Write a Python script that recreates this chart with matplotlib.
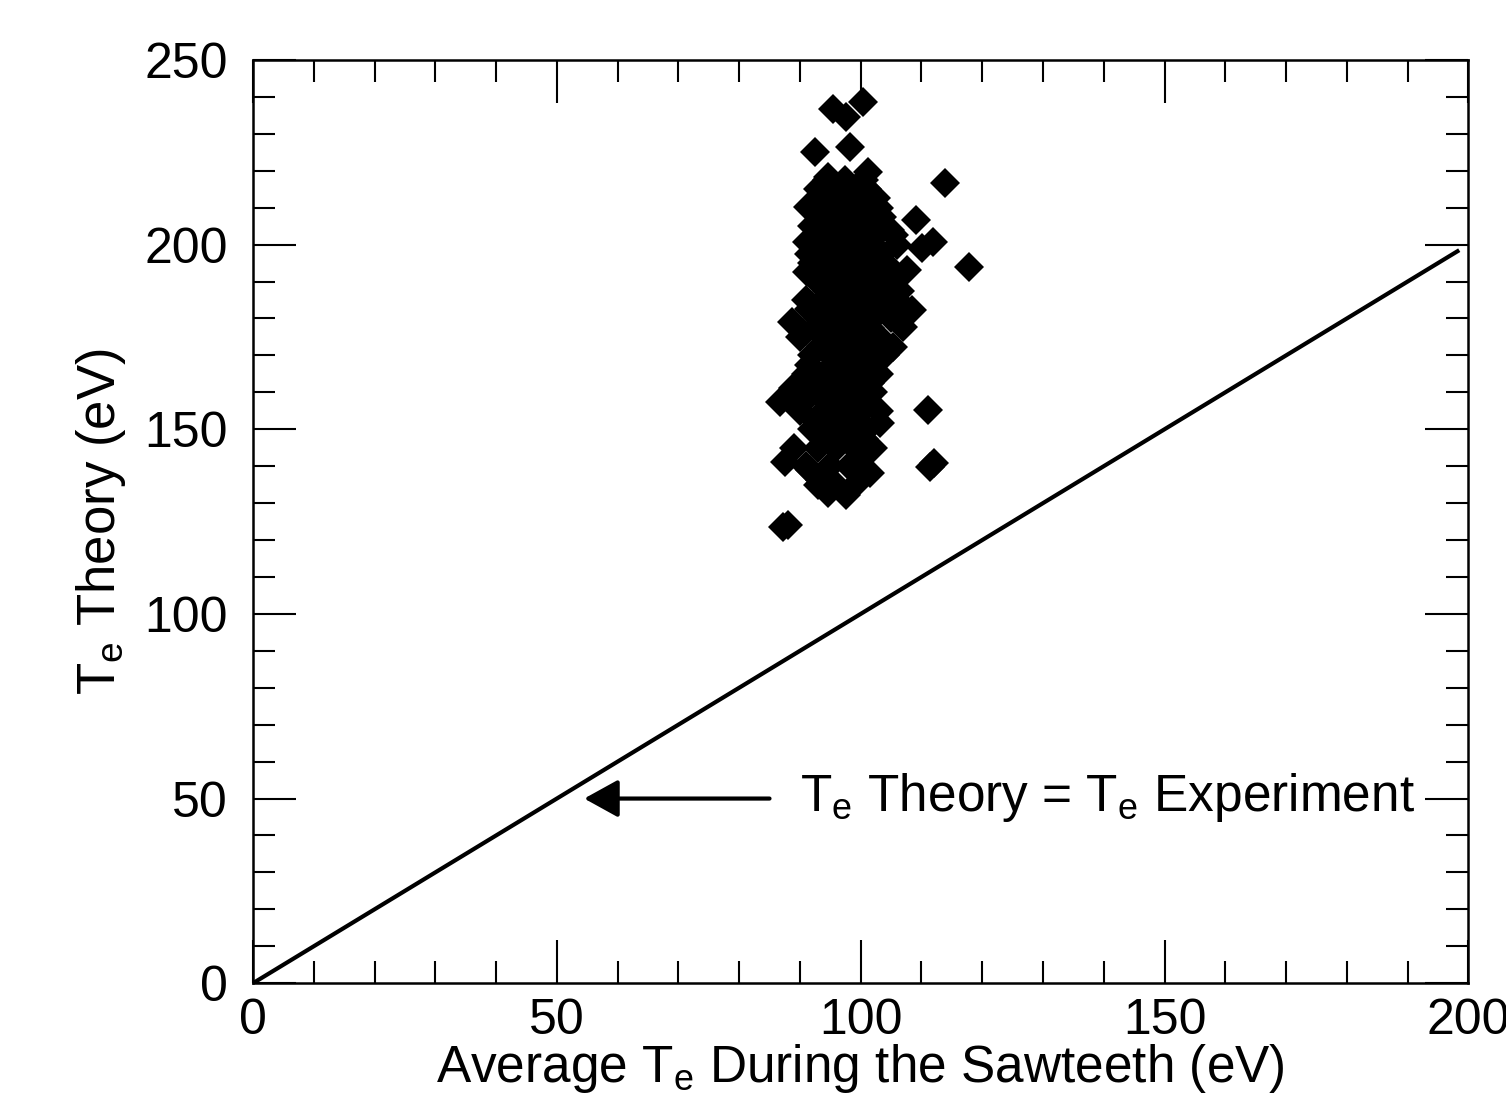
import numpy as np
import matplotlib as mpl
import matplotlib.pyplot as plt
from matplotlib.ticker import MultipleLocator

mpl.rcParams['font.family'] = ['Liberation Sans', 'DejaVu Sans']
mpl.rcParams['mathtext.fontset'] = 'custom'
mpl.rcParams['mathtext.rm'] = 'Liberation Sans'

# scatter points (Te average, Te theory)
te_avg = [100.4, 95.5, 97.6, 92.5, 98.3, 101.2, 94.7, 113.9, 109.1, 111.9,
          110.1, 117.9, 91.4, 91.2, 91.2, 88.7, 91.7, 108.5, 107.0, 105.3,
          104.9, 107.7, 111.1, 111.4, 112.0, 88.1, 87.2, 86.7, 87.6, 94.7,
          97.6, 101.6, 103.2, 88.9, 90.5, 101.6, 91.7, 93.3,
          93, 96, 99, 101,
          94, 97, 100, 103,
          92, 95, 98, 101, 104,
          93, 96, 99, 102, 106,
          92, 95, 98, 101, 104,
          93, 96, 99, 102, 105,
          91, 94, 97, 100, 103, 106,
          93, 96, 99, 102, 105,
          90, 94, 97, 100, 103,
          92, 95, 98, 101, 104,
          91, 94, 97, 100, 103,
          93, 96, 99, 102,
          90, 94, 97, 100, 103,
          92, 95, 98, 101,
          89, 93, 96, 99, 102,
          91, 95, 98, 100,
          93, 96, 99,
          # in-between rows
          94.5, 97.5, 100.5,
          93.5, 96.5, 99.5, 102.5,
          94.5, 97.5, 100.5, 103.5,
          93.5, 96.5, 99.5, 102.5, 105.5,
          91.5, 94.5, 97.5, 100.5, 103.5,
          92.5, 95.5, 98.5, 101.5, 104.5,
          94.5, 97.5, 100.5, 103.5, 106.5,
          91.5, 95.5, 98.5, 101.5, 104.5,
          92.5, 95.5, 98.5, 101.5,
          93.5, 96.5, 99.5, 102.5,
          91.5, 95.5, 98.5, 101.5,
          92.5, 95.5, 98.5, 101.5,
          90.5, 94.5, 97.5, 100.5,
          92.5, 96.5, 99.5,
          94.5, 97.5, 100.5]
te_theory = [238.6, 236.7, 234.6, 225.1, 226.4, 219.7, 218.3, 216.7, 206.7, 200.7,
             199.1, 193.9, 210.2, 200.7, 192.6, 179.0, 182.3, 182.3, 177.7, 172.3,
             204.0, 193.1, 155.2, 139.8, 140.8, 124.1, 123.5, 157.4, 141.1, 132.7,
             132.2, 138.1, 151.7, 161.2, 157.9, 144.4, 139.0, 136.2,
             215, 215, 215, 215,
             210, 210, 210, 210,
             205, 205, 205, 205, 205,
             200, 200, 200, 200, 200,
             195, 195, 195, 195, 195,
             190, 190, 190, 190, 190,
             185, 185, 185, 185, 185, 185,
             180, 180, 180, 180, 180,
             175, 175, 175, 175, 175,
             170, 170, 170, 170, 170,
             165, 165, 165, 165, 165,
             160, 160, 160, 160,
             155, 155, 155, 155, 155,
             150, 150, 150, 150,
             145, 145, 145, 145, 145,
             140, 140, 140, 140,
             135, 135, 135,
             217.5, 217.5, 217.5,
             212.5, 212.5, 212.5, 212.5,
             207.5, 207.5, 207.5, 207.5,
             202.5, 202.5, 202.5, 202.5, 202.5,
             197.5, 197.5, 197.5, 197.5, 197.5,
             192.5, 192.5, 192.5, 192.5, 192.5,
             187.5, 187.5, 187.5, 187.5, 187.5,
             182.5, 182.5, 182.5, 182.5, 182.5,
             177.5, 177.5, 177.5, 177.5,
             172.5, 172.5, 172.5, 172.5,
             167.5, 167.5, 167.5, 167.5,
             162.5, 162.5, 162.5, 162.5,
             157.5, 157.5, 157.5, 157.5,
             152.5, 152.5, 152.5,
             147.5, 147.5, 147.5]

line_x = [0, 198.5]
line_y = [0, 198.5]

fig = plt.figure(figsize=(15.06, 11.01), dpi=100)
ax = fig.add_axes([0.168, 0.107, 0.807, 0.8385])

ax.plot(line_x, line_y, color='black', lw=3.0, solid_capstyle='butt')
ax.plot(te_avg, te_theory, linestyle='none', marker='D', markersize=15.3,
        markeredgewidth=0, color='black')

ax.annotate('', xy=(54.5, 50), xytext=(85, 50),
            arrowprops=dict(arrowstyle='-|>,head_length=1.05,head_width=0.58',
                            lw=3, color='black', mutation_scale=20,
                            shrinkA=0, shrinkB=0))
ax.text(90, 50.4, r'$\mathregular{T_e}$ Theory = $\mathregular{T_e}$ Experiment',
        fontsize=37, va='center', ha='left')

ax.set_xlim(0, 200)
ax.set_ylim(0, 250)
ax.xaxis.set_major_locator(MultipleLocator(50))
ax.xaxis.set_minor_locator(MultipleLocator(10))
ax.yaxis.set_major_locator(MultipleLocator(50))
ax.yaxis.set_minor_locator(MultipleLocator(10))

ax.tick_params(which='both', direction='in', top=True, right=True, width=1.5)
ax.tick_params(which='major', length=31, labelsize=36)
ax.tick_params(which='minor', length=16)
ax.tick_params(axis='x', pad=11)
ax.tick_params(axis='y', pad=18)
for sp in ax.spines.values():
    sp.set_linewidth(1.8)

ax.set_xlabel(r'Average $\mathregular{T_e}$ During the Sawteeth (eV)', fontsize=37, labelpad=-2)
ax.set_ylabel(r'$\mathregular{T_e}$ Theory (eV)', fontsize=38, labelpad=12)

fig.savefig('out.png', dpi=100)
